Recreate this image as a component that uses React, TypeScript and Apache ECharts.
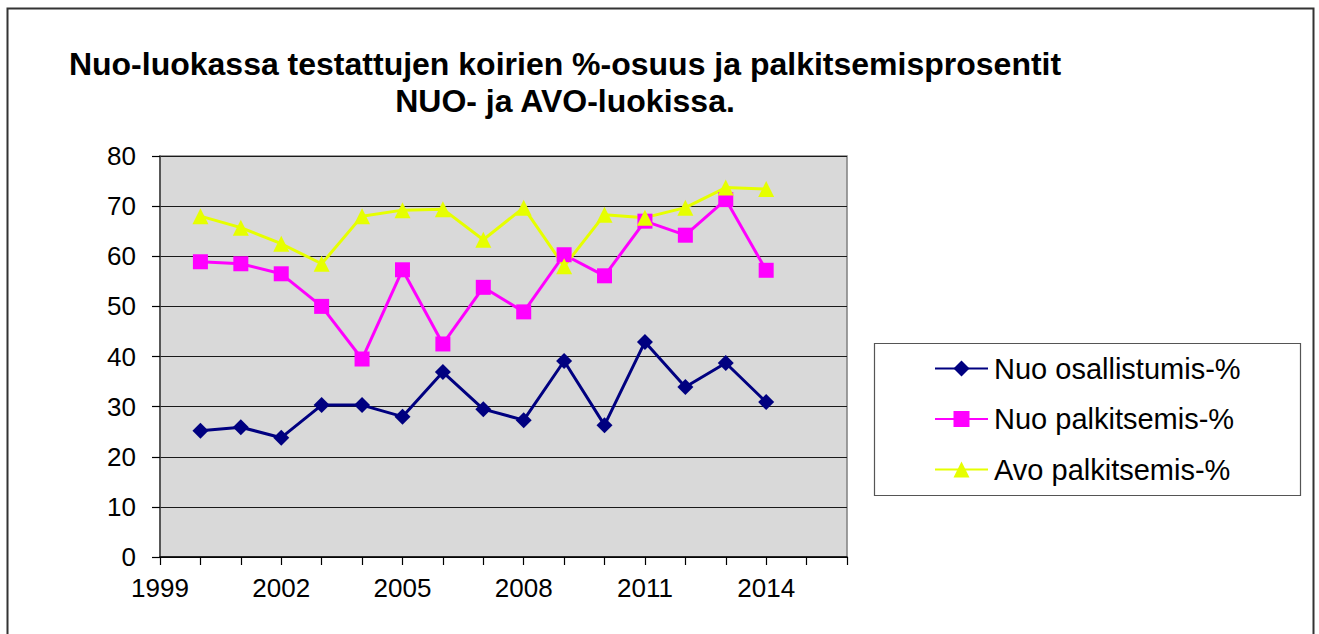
import React, { useEffect, useRef } from "react";
import * as echarts from "echarts";

const years = [2000, 2001, 2002, 2003, 2004, 2005, 2006, 2007, 2008, 2009, 2010, 2011, 2012, 2013, 2014];
const nuoOsallistumis = [25.2, 25.9, 23.8, 30.3, 30.3, 28.0, 36.9, 29.5, 27.3, 39.1, 26.3, 42.9, 33.9, 38.7, 30.9];
const nuoPalkitsemis = [58.9, 58.5, 56.5, 50.0, 39.5, 57.3, 42.5, 53.8, 48.9, 60.3, 56.1, 67.0, 64.2, 71.3, 57.2];
const avoPalkitsemis = [68.0, 65.7, 62.5, 58.5, 68.0, 69.2, 69.4, 63.3, 69.7, 58.0, 68.3, 67.7, 69.7, 73.7, 73.4];
const seriesNames = ["Nuo osallistumis-%", "Nuo palkitsemis-%", "Avo palkitsemis-%"];
const titleLines = ["Nuo-luokassa testattujen koirien %-osuus ja palkitsemisprosentit", "NUO- ja AVO-luokissa."];

const FONT = 'Arial, "Liberation Sans", sans-serif';

export default function App() {
  const ref = useRef<HTMLDivElement>(null);
  useEffect(() => {
    if (!ref.current) return;
    const chart = echarts.init(ref.current, null, { renderer: "svg" });
    const pair = (vals: number[]) => years.map((y, i) => [y, vals[i]]);
    chart.setOption({
      animation: false,
      backgroundColor: "#ffffff",
      textStyle: { fontFamily: FONT },
      grid: {
        left: 160,
        top: 156,
        right: 472,
        bottom: 77,
        show: true,
        backgroundColor: "#d9d9d9",
        borderColor: "#808080",
        borderWidth: 1.5,
      },
      graphic: [
        {
          type: "rect",
          shape: { x: 7.5, y: 8.5, width: 1306, height: 700 },
          style: { fill: "none", stroke: "#333333", lineWidth: 2 },
          silent: true,
        },
        {
          type: "rect",
          shape: { x: 874.5, y: 343.5, width: 426, height: 152 },
          style: { fill: "#ffffff", stroke: "#555555", lineWidth: 1.2 },
          silent: true,
          z: 0,
        },
        {
          type: "text",
          x: 565,
          y: 64,
          style: {
            text: titleLines[0],
            fontFamily: FONT,
            fontSize: 32,
            fontWeight: "bold",
            fill: "#000000",
            textAlign: "center",
            textVerticalAlign: "middle",
          },
        },
        {
          type: "text",
          x: 565,
          y: 101,
          style: {
            text: titleLines[1],
            fontFamily: FONT,
            fontSize: 32,
            fontWeight: "bold",
            fill: "#000000",
            textAlign: "center",
            textVerticalAlign: "middle",
          },
        },
      ],
      legend: {
        orient: "vertical",
        left: 874,
        top: 343,
        padding: [11, 20, 11, 60],
        itemWidth: 53,
        itemHeight: 20,
        itemGap: 21.5,
        z: 5,
        textStyle: { fontFamily: FONT, fontSize: 29, color: "#000000", padding: [0, 0, 0, 1] },
        data: seriesNames,
      },
      xAxis: {
        type: "value",
        min: 1999,
        max: 2016,
        interval: 1,
        splitLine: { show: false },
        axisLine: { show: true, onZero: false, lineStyle: { color: "#000000", width: 1.5 } },
        axisTick: { show: true, length: 8, lineStyle: { color: "#000000", width: 1.2 } },
        axisLabel: {
          margin: 18,
          fontFamily: FONT,
          fontSize: 26,
          color: "#000000",
          formatter: (v: number) => ((v - 1999) % 3 === 0 ? String(v) : ""),
        },
      },
      yAxis: {
        type: "value",
        min: 0,
        max: 80,
        interval: 10,
        splitLine: { show: true, lineStyle: { color: "#1a1a1a", width: 1.2 } },
        axisLine: { show: true, lineStyle: { color: "#404040", width: 1.5 } },
        axisTick: { show: true, length: 8, lineStyle: { color: "#000000", width: 1.2 } },
        axisLabel: { margin: 24, fontFamily: FONT, fontSize: 26, color: "#000000" },
      },
      series: [
        {
          name: seriesNames[0],
          type: "line",
          data: pair(nuoOsallistumis),
          symbol: "diamond",
          symbolSize: 16,
          color: "#000080",
          lineStyle: { width: 3, color: "#000080" },
          itemStyle: { color: "#000080" },
        },
        {
          name: seriesNames[1],
          type: "line",
          data: pair(nuoPalkitsemis),
          symbol: "rect",
          symbolSize: 15,
          color: "#ff00ff",
          lineStyle: { width: 3, color: "#ff00ff" },
          itemStyle: { color: "#ff00ff" },
        },
        {
          name: seriesNames[2],
          type: "line",
          data: pair(avoPalkitsemis),
          symbol: "triangle",
          symbolSize: 16,
          color: "#e6ff00",
          lineStyle: { width: 3, color: "#e6ff00" },
          itemStyle: { color: "#e6ff00" },
        },
      ],
    });
    return () => chart.dispose();
  }, []);
  return (
    <div
      ref={ref}
      style={{ position: "fixed", left: 0, top: 0, width: 1319, height: 634 }}
    />
  );
}
